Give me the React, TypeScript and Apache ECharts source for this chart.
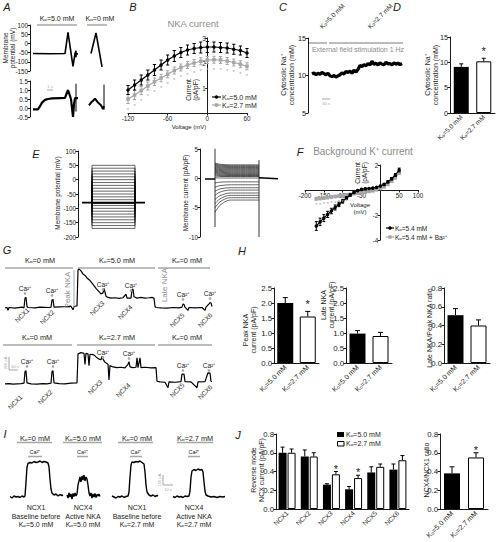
import React, { useEffect, useRef } from "react";
import * as echarts from "echarts";

const FONT = '"Liberation Sans", Arial, Helvetica, sans-serif';
const GREY = "#a6a6a6";
const TGREY = "#8c8c8c";
const INK = "#1a1a1a";

// ---------------- DATA ----------------
// A: membrane potential (mV) and current traces [time, value]
const aPotential1 = [[3, -55], [20, -56], [35, -55], [38, 60], [43, -125], [44, -90], [45, -55], [46, -40], [46, -75], [46, -57], [48, -57]];
const aPotential2 = [[61, -55], [66, 57], [72, -128]];
const aCurrent1 = [[3, -0.08], [8, -0.08], [10, 0.1], [12, 0.3], [15, 0.45], [18, 0.5], [22, 0.53], [30, 0.55], [35, 0.56], [38, 1.0], [41, 0.5], [43, -0.5], [44, 0.2], [45, 0.55], [48, 0.55]];
const aCurrent1Tail = [[46, 1.35], [46, -0.2]];
const aCurrent2 = [[59, 0.15], [61, 0.3], [63, 0.4], [65, 0.52], [68, 0.3], [71, 0.15], [73, -0.05], [74, 0.1]];
const aCurrent2Tail = [[74, 1.3], [74, -0.1]];

// B: NKA current I-V
const bVoltage = [-120, -110, -100, -90, -80, -70, -60, -50, -40, -30, -20, -10, 0, 10, 20, 30, 40, 50, 60];
const bK50 = [0.92, 1.12, 1.32, 1.52, 1.72, 1.92, 2.12, 2.28, 2.42, 2.52, 2.58, 2.62, 2.64, 2.64, 2.62, 2.6, 2.55, 2.5, 2.4];
const bK50Err = [0.18, 0.2, 0.2, 0.2, 0.22, 0.2, 0.2, 0.22, 0.2, 0.2, 0.2, 0.22, 0.22, 0.2, 0.2, 0.2, 0.2, 0.18, 0.18];
const bK27 = [0.56, 0.72, 0.9, 1.08, 1.25, 1.4, 1.55, 1.7, 1.82, 1.92, 2.0, 2.07, 2.12, 2.13, 2.12, 2.08, 2.02, 1.95, 1.87];
const bK27Err = [0.18, 0.18, 0.16, 0.16, 0.15, 0.15, 0.14, 0.14, 0.14, 0.14, 0.14, 0.14, 0.14, 0.14, 0.14, 0.14, 0.14, 0.14, 0.14];

// C: cytosolic Na+ trace
const cTime = [4, 6, 8, 10, 12, 14, 16, 18, 20, 22, 24, 26, 28, 30, 32, 34, 36, 38, 40, 42, 44, 46, 48, 50, 52, 54, 56, 58, 60, 62, 64, 66, 68, 70, 72, 74, 76, 78, 80, 82, 84, 86, 88, 90, 92, 94];
const cNa = [10.2, 10.35, 10.1, 10.3, 10.15, 10.4, 10.25, 10.1, 10.3, 9.95, 9.85, 10.0, 9.8, 9.95, 10.1, 10.35, 10.2, 10.55, 10.4, 10.6, 10.3, 10.7, 10.45, 10.8, 11.35, 11.2, 11.45, 11.3, 11.6, 11.4, 11.9, 11.5, 11.65, 11.4, 11.7, 11.5, 11.45, 11.75, 11.55, 11.6, 11.4, 11.7, 11.5, 11.65, 11.45, 11.6];

// D
const kCats = ["Kₒ=5.0 mM", "Kₒ=2.7 mM"];
const dNa = [9.1, 10.2];
const dNaErr = [0.6, 0.6];

// E: voltage protocol levels (mV) and current family (pA/pF)
const eLevels = [50, 40, 30, 20, 10, 0, -10, -20, -30, -40, -50, -60, -70, -80, -90, -100, -110, -120, -130, -140, -150, -160, -170];
const eHold = -80;
const eInit = [2.6, 2.45, 2.3, 2.15, 2.0, 1.85, 1.7, 1.55, 1.4, 1.25, 1.1, 0.95, 0.8, 0.6, 0.4, 0.1, -0.8, -1.5, -2.2, -2.9, -3.6, -4.3, -5.0, -5.8];
const eMid = [2.4, 2.25, 2.1, 1.95, 1.8, 1.65, 1.5, 1.35, 1.2, 1.05, 0.9, 0.75, 0.6, 0.45, 0.32, 0.06, -0.65, -1.25, -1.8, -2.35, -2.95, -3.5, -4.0, -4.6];
const eSS = [2.3, 2.15, 2.0, 1.85, 1.7, 1.55, 1.4, 1.25, 1.1, 0.95, 0.8, 0.65, 0.5, 0.4, 0.3, 0.05, -0.6, -1.1, -1.6, -2.0, -2.5, -2.9, -3.3, -3.7];

// F: background K+ current I-V
const fVoltage = [-170, -160, -150, -140, -130, -120, -110, -100, -90, -80, -70, -60, -50, -40, -30, -20, -10, 0, 10, 20, 30, 40, 50];
const fK = [-2.88, -2.55, -2.25, -1.95, -1.68, -1.4, -1.15, -0.9, -0.65, -0.4, -0.2, -0.05, 0.05, 0.1, 0.12, 0.15, 0.22, 0.32, 0.45, 0.65, 0.9, 1.2, 1.6];
const fKErr = [0.35, 0.3, 0.28, 0.25, 0.22, 0.2, 0.18, 0.15, 0.12, 0.1, 0.08, 0.06, 0.05, 0.05, 0.05, 0.05, 0.06, 0.06, 0.07, 0.08, 0.1, 0.12, 0.15];
const fBa = [-0.7, -0.68, -0.65, -0.6, -0.56, -0.52, -0.48, -0.44, -0.4, -0.35, -0.3, -0.26, -0.22, -0.18, -0.12, -0.06, 0.02, 0.12, 0.25, 0.45, 0.7, 1.0, 1.35];
const fBaErr = [0.12, 0.1, 0.1, 0.1, 0.1, 0.1, 0.1, 0.1, 0.1, 0.08, 0.08, 0.08, 0.08, 0.08, 0.08, 0.08, 0.08, 0.08, 0.08, 0.1, 0.1, 0.12, 0.12];

// G: membrane current recordings (time units, pA)
const gTop = [[0, 0], [2, 5], [3, -40], [4, 5], [10, -5], [17, 10], [19, 0], [20, 150], [21, 160], [22, 20], [23, 5], [30, 0], [35, 10], [44, 5], [46, 10], [47, 120], [48, 130], [49, 10], [55, 15], [62, 20], [66, 25], [68, -30], [69, 20], [72, 30], [73, 580], [74, 600], [76, 570], [78, 520], [80, 500], [82, 460], [85, 420], [88, 360], [91, 300], [94, 250], [96, 215], [98, 230], [99, 300], [100, 240], [101, 180], [103, 160], [106, 150], [110, 155], [114, 145], [118, 155], [121, 210], [122, 150], [126, 150], [127, 280], [128, 290], [129, 170], [132, 150], [136, 160], [140, 150], [144, 155], [147, 160], [149, 150], [150, 20], [151, 5], [156, 0], [162, -5], [168, 5], [174, 0], [177, 10], [178, 60], [179, 50], [180, 10], [183, -40], [184, 5], [190, 0], [197, 5], [200, -40], [201, 10], [204, 60], [205, 80], [206, 75], [207, 20]];
const gBottom = [[0, 0], [4, 5], [8, -5], [12, 0], [16, 5], [19, 10], [20, 190], [21, 200], [22, 15], [26, 0], [32, -5], [38, 5], [42, 0], [46, 10], [47, 190], [48, 200], [49, 15], [54, 5], [60, 0], [66, 10], [72, 15], [73, 460], [76, 480], [79, 470], [80, 300], [81, 470], [83, 460], [84, 280], [85, 455], [88, 450], [90, 430], [92, 400], [94, 380], [96, 370], [97, 420], [98, 380], [100, 330], [103, 300], [104, 60], [105, 280], [108, 260], [112, 250], [116, 255], [120, 245], [123, 300], [124, 340], [125, 260], [128, 250], [131, 255], [132, 400], [133, 250], [135, 400], [136, 250], [140, 255], [146, 245], [151, 250], [152, 40], [155, 30], [160, 25], [163, -60], [164, 30], [170, 25], [176, 35], [177, 150], [179, 150], [180, 35], [186, 30], [192, -60], [193, 30], [200, 35], [203, 170], [205, 165], [206, 40], [207, 35]];

// H
const hPeak = [2.0, 1.55];
const hPeakErr = [0.18, 0.17];
const hLate = [0.98, 0.9];
const hLateErr = [0.1, 0.12];
const hRatio = [0.51, 0.4];
const hRatioErr = [0.07, 0.06];

// I: NCX current traces (time units, pA)
const iTrace1 = [[5, 5], [7, -10], [9, 10], [11, 0], [13, 5], [15, -5], [17, 10], [19, 0], [20, 10], [21, 150], [22, 300], [23, 335], [25, 345], [27, 340], [29, 355], [31, 345], [33, 350], [35, 360], [37, 345], [39, 355], [41, 350], [43, 340], [44, 300], [45, 180], [46, 80], [47, 40], [49, 20], [51, 30], [53, 10], [55, 25], [57, 15], [58, 20]];
const iTrace2 = [[62, 20], [63, -10], [64, 40], [65, 0], [66, 30], [67, -20], [68, 35], [69, 5], [70, 40], [71, 10], [72, 30], [73, 120], [74, 160], [75, 200], [76, 150], [77, 210], [78, 170], [79, 220], [80, 160], [81, 200], [82, 180], [83, 120], [84, 40], [85, 10], [86, 40], [87, -10], [88, 30], [89, 0], [90, 35], [91, -5], [92, 25], [93, 10], [94, 30], [95, 5]];
const iTrace3 = [[107, 10], [109, 0], [111, -10], [113, 5], [115, 0], [117, 10], [119, -5], [121, 5], [123, 10], [124, 50], [125, 200], [126, 320], [127, 350], [129, 345], [131, 355], [133, 350], [135, 360], [137, 345], [139, 330], [140, 250], [141, 120], [142, 50], [144, 20], [146, 10], [148, 20], [150, 5], [152, 15], [153, 10]];
const iTrace4 = [[168, 5], [170, -5], [172, 10], [174, 0], [176, 5], [178, -5], [180, 10], [182, 5], [184, 10], [185, 60], [186, 200], [187, 260], [189, 275], [191, 265], [193, 280], [195, 270], [197, 275], [198, 250], [199, 150], [200, 60], [201, 20], [203, 10], [206, 0], [209, 5], [212, -5], [215, 5], [218, 0], [220, 5]];

// J
const ncxCats = ["NCX1", "NCX2", "NCX3", "NCX4", "NCX5", "NCX6"];
const jK50 = [0.6, 0.56, 0.26, 0.21, 0.39, 0.42];
const jK50Err = [0.06, 0.07, 0.01, 0.03, 0.06, 0.06];
const jK27 = [0.6, 0.56, 0.37, 0.33, 0.45, 0.52];
const jK27Err = [0.04, 0.04, 0.03, 0.03, 0.03, 0.05];
const jRatio = [0.38, 0.55];
const jRatioErr = [0.07, 0.05];

// ---------------- BUILD ----------------
function buildOption() {
  const grids: any[] = [];
  const xAxis: any[] = [];
  const yAxis: any[] = [];
  const series: any[] = [];
  const gfx: any[] = [];

  const plot = (left: number, top: number, width: number, height: number, x: any, y: any) => {
    const i = grids.length;
    grids.push({ left, top, width, height });
    xAxis.push({ ...x, gridIndex: i });
    yAxis.push({ ...y, gridIndex: i });
    return i;
  };
  const hidden = (min: number, max: number) => ({ type: "value", min, max, show: false });
  const vAxis = (min: number, max: number, interval: number, size: number, fmt?: any) => ({
    type: "value", min, max, interval,
    axisLine: { show: true, onZero: false, lineStyle: { color: INK, width: 1 } },
    axisTick: { show: true, length: 2.5, lineStyle: { color: INK, width: 1 } },
    axisLabel: { fontSize: size, color: INK, fontFamily: FONT, margin: 2, ...(fmt ? { formatter: fmt } : {}) },
    splitLine: { show: false },
  });
  const catAxis = (data: string[], size: number) => ({
    type: "category", data,
    axisLine: { lineStyle: { color: INK, width: 1 } },
    axisTick: { show: false },
    axisLabel: { rotate: 45, fontSize: size, color: INK, fontFamily: FONT, margin: 3, interval: 0 },
  });
  const fix1 = (v: number) => v.toFixed(1);
  const hide0 = (v: number) => (Math.abs(v) < 1e-9 ? "" : String(v));

  const line = (i: number, data: any[], color = INK, width = 1, extra: any = {}) =>
    series.push({ type: "line", xAxisIndex: i, yAxisIndex: i, data, showSymbol: false, symbol: "none", lineStyle: { color, width }, itemStyle: { color }, silent: true, ...extra });

  const errBars = (i: number, pts: number[][], color: string, both: boolean, cap = 1.8) =>
    series.push({
      type: "custom", xAxisIndex: i, yAxisIndex: i, data: pts, silent: true, z: 3,
      renderItem: (_p: any, api: any) => {
        const x = api.value(0), y = api.value(1), e = api.value(2);
        const off = api.value(3) || 0;
        const a = api.coord([x, y + e]);
        const b = api.coord([x, both ? y - e : y]);
        const cx = a[0] + off;
        const st = { stroke: color, lineWidth: 1 };
        const ch: any[] = [
          { type: "line", shape: { x1: cx, y1: a[1], x2: cx, y2: b[1] }, style: st },
          { type: "line", shape: { x1: cx - cap, y1: a[1], x2: cx + cap, y2: a[1] }, style: st },
        ];
        if (both) ch.push({ type: "line", shape: { x1: cx - cap, y1: b[1], x2: cx + cap, y2: b[1] }, style: st });
        return { type: "group", children: ch };
      },
    });

  const stars = (i: number, pts: number[][], color = INK, size = 11) =>
    series.push({
      type: "custom", xAxisIndex: i, yAxisIndex: i, data: pts, silent: true, z: 5,
      renderItem: (_p: any, api: any) => {
        const c = api.coord([api.value(0), api.value(1)]);
        const off = api.value(2) || 0;
        return { type: "text", x: c[0] + off, y: c[1] + size * 0.22, style: { text: "*", fontSize: size, fontFamily: FONT, fill: color, align: "center", verticalAlign: "middle" } };
      },
    });

  const pairBars = (i: number, vals: number[], barWidth: number) =>
    series.push({
      type: "bar", xAxisIndex: i, yAxisIndex: i, barWidth, silent: true,
      data: vals.map((v, k) => ({ value: v, itemStyle: k === 0 ? { color: "#000" } : { color: "#fff", borderColor: "#000", borderWidth: 1 } })),
    });

  const txt = (x: number, y: number, text: string, size = 7, o: any = {}) =>
    gfx.push({
      type: "text", x, y, rotation: o.rot || 0, z: 10, silent: true,
      style: { text, fontSize: size, fontFamily: FONT, fill: o.fill || INK, align: o.align || "center", verticalAlign: "middle", fontStyle: o.italic ? "italic" : "normal", lineHeight: o.lh || Math.round(size * 1.15) },
    });
  const seg = (x1: number, y1: number, x2: number, y2: number, color = GREY, w = 1.5) =>
    gfx.push({ type: "line", z: 10, silent: true, shape: { x1, y1, x2, y2 }, style: { stroke: color, lineWidth: w } });
  const dot = (cx: number, cy: number) => gfx.push({ type: "circle", z: 10, silent: true, shape: { cx, cy, r: 1.3 }, style: { fill: GREY } });
  const R90 = Math.PI / 2;
  const R45 = Math.PI / 4;

  // ---- Panel letters
  const letters: [string, number, number][] = [["A", 7, 7], ["B", 133, 7], ["C", 283, 7], ["D", 397, 7], ["E", 36, 154], ["F", 300, 152], ["G", 7, 250], ["H", 242, 251], ["I", 5, 434], ["J", 238, 435]];
  letters.forEach(([l, x, y]) => txt(x, y, l, 11, { italic: true }));

  // ---- A
  const aTop = plot(30, 25, 90, 46, hidden(0, 90), vAxis(-150, 100, 50, 6.3));
  line(aTop, aPotential1, "#000", 1.6);
  line(aTop, aPotential2, "#000", 1.6);
  const aBot = plot(30, 81, 90, 36, hidden(0, 90), vAxis(-0.5, 1.5, 0.5, 6.3, fix1));
  line(aBot, aCurrent1, "#000", 2.2);
  line(aBot, aCurrent1Tail, "#000", 1);
  line(aBot, aCurrent2, "#000", 2);
  line(aBot, aCurrent2Tail, "#000", 1);
  txt(57, 18, "Kₒ=5.0 mM", 7);
  seg(37, 25, 77, 25);
  txt(100, 18, "Kₒ=0 mM", 7);
  seg(87, 25, 107, 25);
  txt(9, 48, "Membrane\npotential (mV)", 6.5, { rot: R90 });
  seg(47, 90, 53, 90, GREY, 1);
  txt(50, 86.5, "1 s", 4, { fill: GREY });

  // ---- B (voltage axis at the bottom; current axis crossing at 0 mV)
  const bI = plot(128, 38, 119, 75, vAxis(-120, 60, 60, 6.3), hidden(0, 3));
  plot(207.67, 38, 39.33, 75, hidden(0, 60), vAxis(0, 3, 1, 6.3, hide0));
  errBars(bI, bVoltage.map((v, k) => [v, bK27[k], bK27Err[k]]), GREY, true, 1.6);
  line(bI, bVoltage.map((v, k) => [v, bK27[k]]), GREY, 1.2, { showSymbol: true, symbol: "rect", symbolSize: 3.5, z: 2 });
  stars(bI, bVoltage.map((v, k) => [v, bK27[k] - bK27Err[k] - 0.2]), GREY, 6);
  errBars(bI, bVoltage.map((v, k) => [v, bK50[k], bK50Err[k]]), "#000", true, 1.6);
  line(bI, bVoltage.map((v, k) => [v, bK50[k]]), "#000", 1.2, { showSymbol: true, symbol: "circle", symbolSize: 3.5, z: 4 });
  txt(193, 23, "NKA current", 9.5, { fill: TGREY });
  txt(192, 90, "Current\n(pA/pF)", 6.5, { rot: R90 });
  txt(189, 127, "Voltage (mV)", 6);
  seg(212, 97, 221, 97, "#000", 1.2);
  gfx.push({ type: "circle", z: 10, shape: { cx: 216.5, cy: 97, r: 1.8 }, style: { fill: "#000" } });
  txt(222, 97, "Kₒ=5.0 mM", 7, { align: "left" });
  seg(212, 105, 221, 105, GREY, 1.2);
  gfx.push({ type: "rect", z: 10, shape: { x: 214.8, y: 103.3, width: 3.4, height: 3.4 }, style: { fill: GREY } });
  txt(222, 105, "Kₒ=2.7 mM", 7, { align: "left" });

  // ---- C
  const cI = plot(308, 38, 95, 75, hidden(0, 95), vAxis(5, 15, 5, 7.3));
  line(cI, cTime.map((t, k) => [t, cNa[k]]), "#000", 3.2);
  txt(287, 75, "Cytosolic Na⁺\nconcentration (mM)", 7, { rot: R90 });
  txt(332, 16, "Kₒ=5.0 mM", 6.5, { rot: R45 });
  txt(380, 16, "Kₒ=2.7 mM", 6.5, { rot: R45 });
  seg(309, 43, 327, 43);
  seg(329, 43, 403, 43);
  txt(358, 49.5, "External field stimulation 1 Hz", 7, { fill: TGREY });
  seg(322, 99, 330, 99, GREY, 1);
  txt(326, 103, "30 s", 4, { fill: GREY });

  // ---- D
  const dI = plot(450, 37, 45, 76, catAxis(kCats, 6.5), vAxis(0, 15, 5, 7.3));
  pairBars(dI, dNa, 15);
  errBars(dI, dNa.map((v, k) => [k, v, dNaErr[k]]), "#000", false, 2);
  stars(dI, [[1, 12.8]]);
  txt(431, 75, "Cytosolic Na⁺\nconcentration (mM)", 7, { rot: R90 });

  // ---- E (left: protocol)
  const eL = plot(78, 151, 70, 86, hidden(0, 70), vAxis(-200, 100, 50, 6.3));
  line(eL, eLevels.flatMap((L) => [[14, eHold], [14, L], [57, L], [57, eHold]]), "#000", 0.6);
  line(eL, [[4, eHold], [67, eHold]], "#000", 1.6);
  txt(57, 193, "Membrane potential (mV)", 6.5, { rot: R90 });
  // E (right: currents)
  const eR = plot(200, 149, 80, 88, hidden(0, 80), vAxis(-10, 5, 5, 6.3));
  eInit.forEach((v, k) => line(eR, [[15, v], [20, eMid[k]], [30, eSS[k]], [59, eSS[k]]], "#000", 0.6, { smooth: 0.3 }));
  line(eR, [[5, -0.1], [15, -0.1]], "#000", 1.5);
  line(eR, [[59, 0.1], [78, -0.05]], "#000", 1.5);
  line(eR, [[15, 5.1], [15, -8.3]], "#000", 0.8);
  line(eR, [[59, 3.1], [59, -10]], "#000", 0.8);
  txt(185, 193, "Membrane current (pA/pF)", 6.5, { rot: R90 });

  // ---- F (both axes cross at the origin)
  const fI = plot(305, 165, 113, 75, hidden(-200, 100), hidden(-4, 2));
  plot(380.33, 165, 37.67, 75, hidden(0, 100), vAxis(-4, 2, 2, 6.3, hide0));
  plot(305, 165, 113, 25, vAxis(-200, 100, 50, 6.3, hide0), hidden(0, 2));
  errBars(fI, fVoltage.map((v, k) => [v, fBa[k], fBaErr[k]]), GREY, true, 1.5);
  line(fI, fVoltage.map((v, k) => [v, fBa[k]]), GREY, 1.2, { showSymbol: true, symbol: "rect", symbolSize: 3.5, z: 2 });
  stars(fI, fVoltage.slice(0, 9).map((v, k) => [v, fBa[k] - fBaErr[k] - 0.3]), GREY, 6);
  errBars(fI, fVoltage.map((v, k) => [v, fK[k], fKErr[k]]), "#000", true, 1.5);
  line(fI, fVoltage.map((v, k) => [v, fK[k]]), "#000", 1.2, { showSymbol: true, symbol: "circle", symbolSize: 3.5, z: 4 });
  txt(363, 151, "Background K⁺ current", 10, { fill: TGREY });
  txt(361, 173, "Current\n(pA/pF)", 6.5, { rot: R90 });
  txt(360, 208, "Voltage\n(mV)", 6);
  seg(386, 228, 394, 228, "#000", 1.2);
  gfx.push({ type: "circle", z: 10, shape: { cx: 390, cy: 228, r: 1.8 }, style: { fill: "#000" } });
  txt(395, 228, "Kₒ=5.4 mM", 6.5, { align: "left" });
  seg(386, 237, 394, 237, GREY, 1.2);
  gfx.push({ type: "rect", z: 10, shape: { x: 388.3, y: 235.3, width: 3.4, height: 3.4 }, style: { fill: GREY } });
  txt(395, 237, "Kₒ=5.4 mM + Ba²⁺", 6.5, { align: "left" });

  // ---- G
  const gT = plot(5, 265, 207, 48, hidden(0, 207), hidden(-80, 660));
  line(gT, gTop, "#000", 1.2);
  const gB = plot(5, 350, 207, 42, hidden(0, 207), hidden(-125, 520));
  line(gB, gBottom, "#000", 1.2);
  seg(5, 268, 73, 268); seg(78, 268, 155, 268); seg(158, 268, 210, 268);
  txt(40, 260, "Kₒ=0 mM", 7.3); txt(117, 260, "Kₒ=5.0 mM", 7.3); txt(187, 260, "Kₒ=0 mM", 7.3);
  seg(3, 345, 72, 345); seg(77, 345, 155, 345); seg(158, 345, 212, 345);
  txt(37, 337, "Kₒ=0 mM", 7.3); txt(117, 337, "Kₒ=2.7 mM", 7.3); txt(187, 337, "Kₒ=0 mM", 7.3);
  const caTop: [number, number][] = [[25, 288], [52, 290], [103, 284], [131, 285], [183, 294], [210, 293]];
  const caBot: [number, number][] = [[27, 361], [53, 361], [103, 352], [129, 353], [183, 365], [209, 365]];
  [...caTop, ...caBot].forEach(([x, y]) => { txt(x, y, "Ca²⁺", 6.5); dot(x, y + 5.5); });
  const ncxTop: [number, number][] = [[22, 315], [47, 317], [97, 308], [125, 312], [177, 320], [205, 320]];
  const ncxBot: [number, number][] = [[15, 402], [45, 397], [95, 387], [123, 390], [177, 390], [205, 392]];
  ncxTop.forEach(([x, y], k) => txt(x, y, ncxCats[k], 6.5, { rot: R45 }));
  ncxBot.forEach(([x, y], k) => txt(x, y, ncxCats[k], 6.5, { rot: R45 }));
  txt(67, 290, "Peak NKA", 8, { rot: R90, fill: TGREY });
  seg(74, 270, 74, 308, GREY, 1);
  txt(164, 285, "Late NKA", 8, { rot: R90, fill: TGREY });
  seg(9, 357, 9, 370, GREY, 1);
  seg(9, 370, 18, 370, GREY, 1);
  txt(5, 363, "200 pA", 4, { rot: R90, fill: GREY });
  txt(15, 366, "60 s", 4, { fill: GREY });

  // ---- H
  const h1 = plot(274, 288, 45, 75, catAxis(kCats, 7), vAxis(0, 2.5, 0.5, 7.8, fix1));
  pairBars(h1, hPeak, 16);
  errBars(h1, hPeak.map((v, k) => [k, v, hPeakErr[k]]), "#000", false, 2.5);
  stars(h1, [[1, 2.05]]);
  txt(249, 330, "Peak NKA\ncurrent (pA/pF)", 7, { rot: R90 });
  const h2 = plot(346, 288, 46, 75, catAxis(kCats, 7), vAxis(0, 2.5, 0.5, 7.8, fix1));
  pairBars(h2, hLate, 16);
  errBars(h2, hLate.map((v, k) => [k, v, hLateErr[k]]), "#000", false, 2.5);
  txt(327, 305, "Late NKA\ncurrent (pA/pF)", 7, { rot: R90 });
  const h3 = plot(444, 288, 46, 75, catAxis(kCats, 7), vAxis(0, 0.8, 0.2, 7.8, fix1));
  pairBars(h3, hRatio, 16);
  errBars(h3, hRatio.map((v, k) => [k, v, hRatioErr[k]]), "#000", false, 2.5);
  txt(429, 328, "Late NKA/Peak NKA ratio", 7, { rot: R90 });

  // ---- I
  const iI = plot(5, 455, 230, 50, hidden(0, 230), hidden(-80, 420));
  [iTrace1, iTrace2, iTrace3, iTrace4].forEach((t) => line(iI, t, "#000", 1.4));
  const iHead: [number, number, string, number, number, number, number][] = [
    [35, 438, "Kₒ=0 mM", 17, 52, 28, 42],
    [83, 438, "Kₒ=5.0 mM", 63, 102, 77, 88],
    [137, 438, "Kₒ=0 mM", 118, 153, 130, 142],
    [195, 438, "Kₒ=2.7 mM", 177, 213, 188, 200],
  ];
  iHead.forEach(([x, y, t, b1, b2, c1, c2]) => {
    txt(x, y, t, 7.3);
    seg(b1, 442.5, b2, 442.5);
    txt((c1 + c2) / 2, 451.5, "Ca²⁺", 5.5);
    seg(c1, 456.5, c2, 456.5);
  });
  const iCap: [number, string][] = [
    [36, "NCX1\nBaseline before\nKₒ=5.0 mM"],
    [83, "NCX4\nActive NKA\nKₒ=5.0 mM"],
    [137, "NCX1\nBaseline before\nKₒ=2.7 mM"],
    [194, "NCX4\nActive NKA\nKₒ=2.7 mM"],
  ];
  iCap.forEach(([x, t]) => txt(x, 516, t, 7, { lh: 8.3 }));
  seg(163, 475, 163, 485, GREY, 1);
  seg(163, 485, 173, 485, GREY, 1);
  txt(159, 480, "100 pA", 4, { rot: R90, fill: GREY });
  txt(168, 489, "10 s", 4, { fill: GREY });

  // ---- J
  const j1 = plot(276, 434, 133, 75, catAxis(ncxCats, 6.5), vAxis(0, 0.8, 0.2, 7.8, fix1));
  series.push({ type: "bar", xAxisIndex: j1, yAxisIndex: j1, barWidth: 8, barGap: "12%", silent: true, data: jK50, itemStyle: { color: "#000" } });
  series.push({ type: "bar", xAxisIndex: j1, yAxisIndex: j1, barWidth: 8, barGap: "12%", silent: true, data: jK27, itemStyle: { color: "#fff", borderColor: "#000", borderWidth: 1 } });
  errBars(j1, jK50.map((v, k) => [k, v, jK50Err[k], -4.5]), "#000", false, 2);
  errBars(j1, jK27.map((v, k) => [k, v, jK27Err[k], 4.5]), "#000", false, 2);
  stars(j1, [[2, 0.45, 4.5], [3, 0.42, 4.5]]);
  txt(257, 470, "Reverse mode\nNCX current (pA/pF)", 7, { rot: R90 });
  gfx.push({ type: "rect", z: 10, shape: { x: 337, y: 432, width: 7, height: 5 }, style: { fill: "#000" } });
  txt(346, 434.5, "Kₒ=5.0 mM", 7, { align: "left" });
  gfx.push({ type: "rect", z: 10, shape: { x: 337.5, y: 441.5, width: 6.5, height: 4.5 }, style: { fill: "#fff", stroke: "#000", lineWidth: 1 } });
  txt(346, 443.5, "Kₒ=2.7 mM", 7, { align: "left" });
  const j2 = plot(440, 434, 48, 75, catAxis(kCats, 7), vAxis(0, 0.8, 0.2, 7.8, fix1));
  pairBars(j2, jRatio, 16);
  errBars(j2, jRatio.map((v, k) => [k, v, jRatioErr[k]]), "#000", false, 2.5);
  stars(j2, [[1, 0.65]]);
  txt(426, 470, "NCX4/NCX1 ratio", 7, { rot: R90 });

  return {
    animation: false,
    backgroundColor: "#fff",
    textStyle: { fontFamily: FONT },
    grid: grids,
    xAxis,
    yAxis,
    series,
    graphic: { elements: gfx },
  };
}

export default function App() {
  const ref = useRef<HTMLDivElement>(null);
  useEffect(() => {
    if (!ref.current) return;
    const chart = echarts.init(ref.current, null, { renderer: "svg" });
    chart.setOption(buildOption() as any);
    return () => chart.dispose();
  }, []);
  return <div ref={ref} style={{ position: "absolute", left: 0, top: 0, width: 498, height: 542, background: "#fff" }} />;
}
